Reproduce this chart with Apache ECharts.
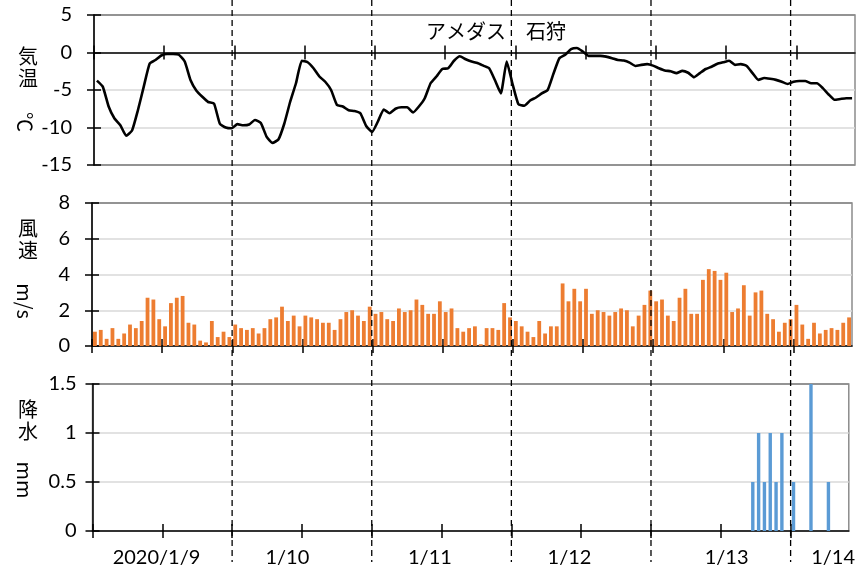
<!DOCTYPE html>
<html>
<head>
<meta charset="utf-8">
<script src="https://cdn.jsdelivr.net/npm/echarts@6/dist/echarts.min.js"></script>
<style>
  html, body { margin: 0; background: #fff; }
  #chart { width: 858px; height: 577px; }
</style>
</head>
<body>
<div id="chart"></div>
<script>
// hourly values, 2020/1/9 01:00 .. 1/14 10:00 (130 hours), アメダス 石狩
var temp = [
  -3.75, -4.55, -7.2, -8.8, -9.7, -11.1, -10.4, -7.7, -4.55, -1.5,
  -1.0, -0.4, -0.2, -0.2, -0.3, -1.2, -3.7, -5.1, -5.9, -6.6,
  -6.8, -9.5, -10.0, -10.1, -9.55, -9.7, -9.6, -9.0, -9.4, -11.25,
  -12.05, -11.6, -9.5, -6.6, -4.1, -1.1, -1.3, -2.1, -3.2, -3.9,
  -5.0, -7.0, -7.2, -7.7, -7.8, -8.1, -9.8, -10.6, -9.2, -7.6,
  -8.1, -7.5, -7.3, -7.3, -8.0, -7.2, -6.1, -4.1, -3.2, -2.2,
  -2.1, -1.1, -0.5, -0.9, -1.2, -1.4, -1.75, -2.1, -3.7, -5.45,
  -1.2, -4.2, -6.9, -7.1, -6.4, -6.0, -5.45, -5.0, -2.8, -0.76,
  -0.3, 0.45, 0.6, 0.13, -0.45, -0.45, -0.45, -0.55, -0.76, -1.0,
  -1.07, -1.35, -1.8, -1.65, -1.55, -1.75, -2.1, -2.4, -2.5, -2.75,
  -2.45, -2.7, -3.3, -2.75, -2.2, -1.9, -1.5, -1.3, -1.1, -1.65,
  -1.55, -1.8, -2.75, -3.65, -3.4, -3.5, -3.65, -3.9, -4.2, -3.9,
  -3.8, -3.8, -4.1, -4.1, -4.75, -5.6, -6.3, -6.2, -6.1, -6.1
];
var wind = [
  0.8, 0.9, 0.4, 1.0, 0.4, 0.7, 1.2, 1.0, 1.4, 2.7,
  2.6, 1.5, 1.1, 2.4, 2.7, 2.8, 1.3, 1.2, 0.3, 0.2,
  1.4, 0.5, 0.8, 0.5, 1.2, 1.0, 0.9, 1.0, 0.7, 1.0,
  1.5, 1.6, 2.2, 1.4, 1.7, 1.1, 1.7, 1.6, 1.5, 1.3,
  1.3, 0.9, 1.5, 1.9, 2.0, 1.7, 1.4, 2.2, 1.8, 1.9,
  1.5, 1.4, 2.1, 1.9, 2.0, 2.6, 2.3, 1.8, 1.8, 2.5,
  1.9, 2.1, 1.0, 0.8, 1.0, 1.1, 0.1, 1.0, 1.0, 0.9,
  2.4, 1.6, 1.4, 1.1, 0.8, 0.5, 1.4, 0.7, 1.1, 1.1,
  3.5, 2.5, 3.2, 2.5, 3.2, 1.8, 2.0, 1.9, 1.7, 1.9,
  2.1, 2.0, 1.1, 1.7, 2.3, 3.1, 2.5, 2.6, 1.7, 1.4,
  2.7, 3.2, 1.8, 1.8, 3.7, 4.3, 4.2, 3.7, 4.1, 1.9,
  2.1, 3.4, 1.7, 3.0, 3.1, 1.8, 1.5, 0.8, 1.3, 1.5,
  2.3, 1.2, 0.4, 1.3, 0.7, 0.9, 1.0, 0.9, 1.3, 1.6
];
// precipitation only in these hours (index into the hourly list), all others 0
var rainHour = [113, 114, 115, 116, 117, 118, 120, 123, 126];
var rainMm   = [0.5, 1.0, 0.5, 1.0, 0.5, 1.0, 0.5, 1.5, 0.5];

var hours = 130;
var tickHours = [0, 12, 24, 36, 48, 60, 72, 84, 96, 108, 120];
var dayLabels = ['2020/1/9', '1/10', '1/11', '1/12', '1/13', '1/14'];
var dayLabelAt = [11, 33.5, 58, 82, 109, 127.3];
var dayLines = [24, 48, 72, 96, 120];

var LATIN = 'Lato';
var CJK = '"Noto Sans CJK JP"';
var GRID_GRAY = '#d9d9d9';
var BORDER_GRAY = '#8c8c8c';

var chart = echarts.init(document.getElementById('chart'));

function yAxes(grid, min, max, step, lineColors, margin) {
    var base = {type: 'value', gridIndex: grid, min: min, max: max, interval: step, position: 'left'};
    return [
        Object.assign({}, base, {
            axisLine: {show: true, onZero: false, lineStyle: {color: '#000', width: 1.5}},
            axisTick: {show: true, length: 7, lineStyle: {color: '#000', width: 1.5}},
            axisLabel: {color: '#000', fontFamily: LATIN, fontSize: 20, margin: margin},
            splitLine: {show: true, lineStyle: {color: lineColors, width: 1.5}}
        }),
        // second copy only for the inner half of the crossing ticks
        Object.assign({}, base, {
            axisLine: {show: false, onZero: false},
            axisTick: {show: true, inside: true, length: 7, lineStyle: {color: '#000', width: 1.5}},
            axisLabel: {show: false},
            splitLine: {show: false}
        })
    ];
}

function xAxes(grid, yIndex, withLabels) {
    var base = {type: 'value', gridIndex: grid, min: 0, max: hours, position: 'bottom', splitLine: {show: false}};
    return [
        Object.assign({}, base, {
            axisLine: {show: true, onZero: true, onZeroAxisIndex: yIndex, lineStyle: {color: '#000', width: 1.5}},
            axisTick: {show: true, customValues: tickHours, length: 7, lineStyle: {color: '#000', width: 1.5}},
            axisLabel: withLabels ? {
                show: true, customValues: dayLabelAt, color: '#000', fontFamily: LATIN, fontSize: 20, margin: 17,
                formatter: function (v) { return dayLabels[dayLabelAt.indexOf(v)]; }
            } : {show: false}
        }),
        Object.assign({}, base, {
            axisLine: {show: false, onZero: true, onZeroAxisIndex: yIndex},
            axisTick: {show: true, inside: true, customValues: tickHours, length: 7, lineStyle: {color: '#000', width: 1.5}},
            axisLabel: {show: false}
        })
    ];
}

var gridBox = {show: true, borderColor: BORDER_GRAY, borderWidth: 1.5, backgroundColor: 'transparent'};

chart.setOption({
    animation: false,
    backgroundColor: '#fff',
    grid: [
        Object.assign({left: 94, right: 3, top: 15, height: 150}, gridBox),
        Object.assign({left: 92, right: 6, top: 203, height: 143}, gridBox),
        Object.assign({left: 92.5, right: 6, top: 384, height: 147}, gridBox)
    ],
    xAxis: [].concat(xAxes(0, 0, false), xAxes(1, 2, false), xAxes(2, 4, true)),
    yAxis: [].concat(
        yAxes(0, -15, 5, 5, [BORDER_GRAY, GRID_GRAY, GRID_GRAY, GRID_GRAY, BORDER_GRAY], 22),
        yAxes(1, 0, 8, 2, [GRID_GRAY, GRID_GRAY, GRID_GRAY, GRID_GRAY, BORDER_GRAY], 22),
        yAxes(2, 0, 1.5, 0.5, [GRID_GRAY, GRID_GRAY, GRID_GRAY, BORDER_GRAY], 16)
    ),
    series: [
        {
            name: '気温', type: 'line', xAxisIndex: 0, yAxisIndex: 0,
            data: temp.map(function (v, i) { return [i + 0.5, v]; }),
            symbol: 'none', smooth: 0.15,
            lineStyle: {color: '#000', width: 2.6, join: 'round'}
        },
        {
            name: '風速', type: 'bar', xAxisIndex: 2, yAxisIndex: 2,
            data: wind.map(function (v, i) { return [i + 0.5, v]; }),
            barWidth: 3.8, itemStyle: {color: '#ED7D31'}
        },
        {
            name: '降水', type: 'bar', xAxisIndex: 4, yAxisIndex: 4,
            data: rainHour.map(function (h, k) { return [h + 0.5, rainMm[k]]; }),
            barWidth: 3.4, itemStyle: {color: '#5B9BD5'}
        }
    ]
});

function label(x, y, text, rotated) {
    return {
        type: 'text', x: x, y: y, rotation: rotated ? -Math.PI / 2 : 0, z: 50,
        style: {
            text: text, fill: '#000', font: '20px ' + CJK,
            textAlign: 'center', textVerticalAlign: 'middle', align: 'center', verticalAlign: 'middle'
        }
    };
}

var graphics = [
    label(496, 31, 'アメダス\u3000石狩'),
    label(28, 56, '気'), label(28, 78, '温'), label(25, 122, '℃', true),
    label(28, 228, '風'), label(28, 250, '速'), label(25, 301, 'm/s', true),
    label(28, 409, '降'), label(28, 431, '水'), label(25, 480, 'mm', true)
];
dayLines.forEach(function (h) {
    var px = chart.convertToPixel({xAxisIndex: 4}, h);
    graphics.push({
        type: 'line', z: 60, silent: true,
        shape: {x1: px, y1: 0, x2: px, y2: 562},
        style: {stroke: '#000', lineWidth: 1.3, lineDash: [6, 4]}
    });
});
chart.setOption({graphic: graphics});
</script>
</body>
</html>
